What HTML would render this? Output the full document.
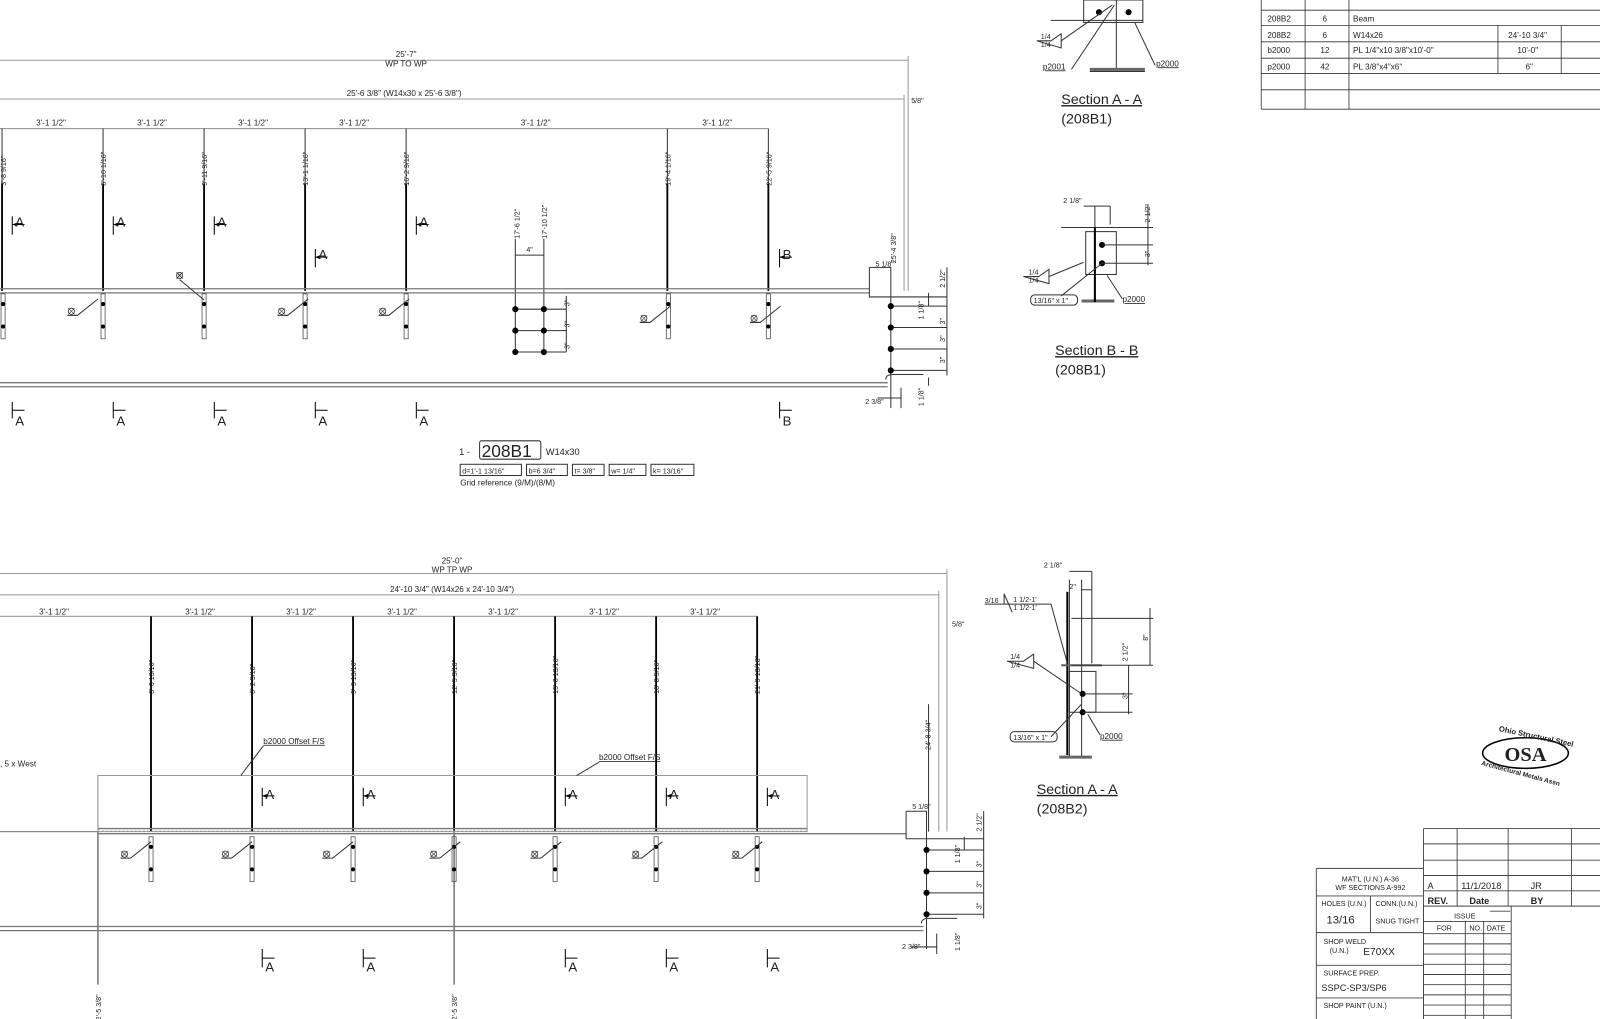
<!DOCTYPE html>
<html><head><meta charset="utf-8"><style>
html,body{margin:0;padding:0;background:#fff;width:1600px;height:1019px;overflow:hidden}
svg{display:block}
text{font-family:"Liberation Sans",sans-serif;fill:#222}
.t{font-size:8px}
.s{font-size:7px}
.l{stroke:#333;stroke-width:1;fill:none}
.g{stroke:#999;stroke-width:1;fill:none}
.b{stroke:#000;stroke-width:1.8;fill:none}
.m{stroke:#000;stroke-width:1;fill:none}
</style></head><body>
<svg width="1600" height="1019" viewBox="0 0 1600 1019" xmlns="http://www.w3.org/2000/svg">
<defs>
<g id="secA"><path d="M0 -8V10M0 0H12" class="m"/><path d="M0 0L5 -2V2Z" fill="#000"/></g>
<g id="holes"><rect x="-2" y="0" width="4" height="44" fill="none" stroke="#555" stroke-width="0.8"/><circle cx="0" cy="10" r="2" fill="#000"/><circle cx="0" cy="32" r="2" fill="#000"/></g>
<g id="weld"><circle cx="0" cy="0" r="3" fill="none" stroke="#333" stroke-width="0.8"/><path d="M-3 -3L3 3M3 -3L-3 3" stroke="#333" stroke-width="0.6"/><path d="M-4 4H6L26 -12" class="l"/></g>
<g id="dot"><circle r="3" fill="#000"/></g>
</defs>
<g transform="scale(1.0204)">
<!-- ========== TOP BEAM ========== -->
<path d="M0 59H890M890 55V285" class="g"/>
<text x="398" y="56" class="t" text-anchor="middle">25'-7"</text>
<text x="398" y="65" class="t" text-anchor="middle">WP TO WP</text>
<path d="M0 97H886M886 93V285" class="g"/>
<text x="396" y="94" class="t" text-anchor="middle">25'-6 3/8" (W14x30 x 25'-6 3/8")</text>
<text x="893" y="101" class="s">5/8"</text>
<path d="M0 126H753" class="g"/>
<text x="50" y="123" class="t" text-anchor="middle">3'-1 1/2"</text>
<text x="149" y="123" class="t" text-anchor="middle">3'-1 1/2"</text>
<text x="248" y="123" class="t" text-anchor="middle">3'-1 1/2"</text>
<text x="347" y="123" class="t" text-anchor="middle">3'-1 1/2"</text>
<text x="525" y="123" class="t" text-anchor="middle">3'-1 1/2"</text>
<text x="703" y="123" class="t" text-anchor="middle">3'-1 1/2"</text>
<path d="M2 126V180M101 126V180M200 126V180M299 126V180M398 126V180M654 126V180M753 126V180" class="l"/>
<path d="M2 180V285M101 180V285M200 180V285M299 180V285M398 180V285M654 180V285M753 180V285" class="b"/>
<g class="s">
<text transform="translate(6,182) rotate(-90)">3'-8 9/16"</text>
<text transform="translate(104,182) rotate(-90)">6'-10 1/16"</text>
<text transform="translate(203,182) rotate(-90)">9'-11 9/16"</text>
<text transform="translate(302,182) rotate(-90)">13'-1 1/16"</text>
<text transform="translate(401,182) rotate(-90)">16'-2 9/16"</text>
<text transform="translate(657,182) rotate(-90)">19'-4 1/16"</text>
<text transform="translate(756,182) rotate(-90)">22'-5 9/16"</text>
<text transform="translate(509,234) rotate(-90)">17'-6 1/2"</text>
<text transform="translate(536,234) rotate(-90)">17'-10 1/2"</text>
<text transform="translate(878,258) rotate(-90)">25'-4 3/8"</text>
</g>
<path d="M505 234V345M533 234V345M505 250H533" class="l"/>
<text x="519" y="247" class="s" text-anchor="middle">4"</text>
<!-- section marks top -->
<use href="#secA" x="12" y="220"/><text x="15" y="222" font-size="13">A</text>
<use href="#secA" x="111" y="220"/><text x="114" y="222" font-size="13">A</text>
<use href="#secA" x="210" y="220"/><text x="213" y="222" font-size="13">A</text>
<use href="#secA" x="309" y="252"/><text x="312" y="254" font-size="13">A</text>
<use href="#secA" x="408" y="220"/><text x="411" y="222" font-size="13">A</text>
<use href="#secA" x="764" y="252"/><text x="767" y="254" font-size="13">B</text>
<!-- beam -->
<path d="M0 283H852M0 287H852" stroke="#777" stroke-width="1.3"/>
<path d="M0 375H870M0 379H870" stroke="#777" stroke-width="1.3"/>
<use href="#holes" x="3" y="288"/><use href="#holes" x="101" y="288"/><use href="#holes" x="200" y="288"/>
<use href="#holes" x="299" y="288"/><use href="#holes" x="398" y="288"/><use href="#holes" x="655" y="288"/><use href="#holes" x="753" y="288"/>
<use href="#weld" x="70" y="305"/><use href="#weld" x="276" y="305"/><use href="#weld" x="375" y="305"/>
<use href="#weld" x="631" y="312"/><use href="#weld" x="739" y="312"/>
<circle cx="176" cy="270" r="3" fill="none" stroke="#333" stroke-width="0.8"/><path d="M173 273L179 267M173 267L179 273M176 274L200 294" class="l"/>
<!-- hole grid -->
<path d="M505 303H555M505 324H555M505 345H555M555 290V345" class="l"/>
<use href="#dot" x="505" y="303"/><use href="#dot" x="533" y="303"/><use href="#dot" x="505" y="324"/><use href="#dot" x="533" y="324"/><use href="#dot" x="505" y="345"/><use href="#dot" x="533" y="345"/>
<text transform="translate(558,300) rotate(-90)" class="s">3"</text>
<text transform="translate(558,321) rotate(-90)" class="s">3"</text>
<text transform="translate(558,342) rotate(-90)" class="s">3"</text>
<!-- right end -->
<path d="M852 262H873V400M852 262V291H928M873 380V400M860 390H883M883 380V400M868 372Q868 367 875 367H905" class="l"/>
<path d="M873 300H928M873 321H928M873 342H928M873 363H928M928 262V368M910 287V300M910 370V378" class="l"/>
<use href="#dot" x="873" y="300"/><use href="#dot" x="873" y="321"/><use href="#dot" x="873" y="342"/><use href="#dot" x="873" y="363"/>
<text x="858" y="261" class="s">5 1/8"</text>
<text x="848" y="396" class="s">2 3/8"</text>
<g class="s">
<text transform="translate(926,282) rotate(-90)">2 1/2"</text>
<text transform="translate(905,313) rotate(-90)">1 1/8"</text>
<text transform="translate(926,335) rotate(-90)">3"</text>
<text transform="translate(926,356) rotate(-90)">3"</text>
<text transform="translate(926,318) rotate(-90)">3"</text>
<text transform="translate(905,398) rotate(-90)">1 1/8"</text>
</g>
<!-- bottom marks -->
<g>
<path d="M12 394V410M12 402H24M111 394V410M111 402H123M210 394V410M210 402H222M309 394V410M309 402H321M408 394V410M408 402H420M764 394V410M764 402H776" class="m"/>
<text x="15" y="417" font-size="13">A</text><text x="114" y="417" font-size="13">A</text><text x="213" y="417" font-size="13">A</text>
<text x="312" y="417" font-size="13">A</text><text x="411" y="417" font-size="13">A</text><text x="767" y="417" font-size="13">B</text>
</g>
<text x="450" y="446" font-size="9">1 -</text>
<rect x="470" y="432" width="60" height="18" rx="2" fill="none" stroke="#333"/>
<text x="472" y="448" font-size="17">208B1</text>
<text x="535" y="446" font-size="9">W14x30</text>
<g class="s" fill="none">
<rect x="451" y="455" width="60" height="11" stroke="#333" fill="none"/><text x="453" y="464">d=1'-1 13/16"</text>
<rect x="516" y="455" width="40" height="11" stroke="#333" fill="none"/><text x="518" y="464">b=6 3/4"</text>
<rect x="561" y="455" width="31" height="11" stroke="#333" fill="none"/><text x="563" y="464">t= 3/8"</text>
<rect x="597" y="455" width="36" height="11" stroke="#333" fill="none"/><text x="599" y="464">w= 1/4"</text>
<rect x="638" y="455" width="42" height="11" stroke="#333" fill="none"/><text x="640" y="464">k= 13/16"</text>
</g>
<text x="451" y="476" class="t">Grid reference (9/M)/(8/M)</text>

<!-- ========== BOTTOM BEAM ========== -->
<path d="M0 562H928M928 558V815" class="g"/>
<text x="443" y="552" class="t" text-anchor="middle">25'-0"</text>
<text x="443" y="561" class="t" text-anchor="middle">WP TP WP</text>
<path d="M0 583H920M920 579V815" class="g"/>
<text x="443" y="580" class="t" text-anchor="middle">24'-10 3/4" (W14x26 x 24'-10 3/4")</text>
<text x="933" y="614" class="s">5/8"</text>
<path d="M0 604H742" class="g"/>
<text x="53" y="602" class="t" text-anchor="middle">3'-1 1/2"</text>
<text x="196" y="602" class="t" text-anchor="middle">3'-1 1/2"</text>
<text x="295" y="602" class="t" text-anchor="middle">3'-1 1/2"</text>
<text x="394" y="602" class="t" text-anchor="middle">3'-1 1/2"</text>
<text x="493" y="602" class="t" text-anchor="middle">3'-1 1/2"</text>
<text x="592" y="602" class="t" text-anchor="middle">3'-1 1/2"</text>
<text x="691" y="602" class="t" text-anchor="middle">3'-1 1/2"</text>
<path d="M148 604V815M247 604V815M346 604V815M445 604V815M544 604V815M643 604V815M742 604V815" class="b"/>
<g class="s" fill="#555">
<text transform="translate(151,680) rotate(-90)">3'-0 13/16"</text>
<text transform="translate(250,680) rotate(-90)">6'-2 5/16"</text>
<text transform="translate(349,680) rotate(-90)">9'-3 13/16"</text>
<text transform="translate(448,680) rotate(-90)">12'-5 5/16"</text>
<text transform="translate(547,680) rotate(-90)">15'-6 13/16"</text>
<text transform="translate(646,680) rotate(-90)">18'-8 5/16"</text>
<text transform="translate(745,680) rotate(-90)">21'-9 13/16"</text>
<text transform="translate(912,735) rotate(-90)">24'-8 3/4"</text>
<text transform="translate(99,1000) rotate(-90)">2'-5 3/8"</text>
<text transform="translate(448,1000) rotate(-90)">2'-5 3/8"</text>
</g>
<path d="M910 690V815M96 760V965M445 815V965" class="l"/>
<text x="0" y="751" class="t">, 5 x West</text>
<rect x="96" y="760" width="695" height="55" class="g"/>
<path d="M96 812H791M96 817H888" stroke="#777" stroke-width="1.3"/>
<path d="M96 814.5H791" stroke="#999" stroke-width="1" stroke-dasharray="2 2"/>
<path d="M0 908H905M0 912H905" stroke="#777" stroke-width="1.3"/>
<path d="M0 815H96" stroke="#888" stroke-width="1.3"/>
<text x="258" y="729" class="t" text-decoration="underline">b2000 Offset F/S</text>
<path d="M258 731L236 760" class="l"/>
<text x="587" y="745" class="t" text-decoration="underline">b2000 Offset F/S</text>
<path d="M587 747L565 760" class="l"/>
<use href="#secA" x="257" y="780"/><text x="260" y="783" font-size="13">A</text>
<use href="#secA" x="356" y="780"/><text x="359" y="783" font-size="13">A</text>
<use href="#secA" x="554" y="780"/><text x="557" y="783" font-size="13">A</text>
<use href="#secA" x="653" y="780"/><text x="656" y="783" font-size="13">A</text>
<use href="#secA" x="752" y="780"/><text x="755" y="783" font-size="13">A</text>
<use href="#holes" x="148" y="820"/><use href="#holes" x="247" y="820"/><use href="#holes" x="346" y="820"/><use href="#holes" x="445" y="820"/>
<use href="#holes" x="544" y="820"/><use href="#holes" x="643" y="820"/><use href="#holes" x="742" y="820"/>
<use href="#weld" x="122" y="837"/><use href="#weld" x="221" y="837"/><use href="#weld" x="320" y="837"/><use href="#weld" x="425" y="837"/>
<use href="#weld" x="524" y="837"/><use href="#weld" x="623" y="837"/><use href="#weld" x="721" y="837"/>
<!-- right end bottom -->
<path d="M888 795H908V930M888 795V822H964M893 928H918M918 915V935M903 905Q903 900 910 900H938" class="l"/>
<path d="M908 833H964M908 854H964M908 875H964M908 896H964M964 795V900M945 820V833" class="l"/>
<use href="#dot" x="908" y="833"/><use href="#dot" x="908" y="854"/><use href="#dot" x="908" y="875"/><use href="#dot" x="908" y="896"/>
<text x="894" y="793" class="s">5 1/8"</text>
<text x="884" y="930" class="s">2 3/8"</text>
<g class="s">
<text transform="translate(962,815) rotate(-90)">2 1/2"</text>
<text transform="translate(941,846) rotate(-90)">1 1/8"</text>
<text transform="translate(962,850) rotate(-90)">3"</text>
<text transform="translate(962,870) rotate(-90)">3"</text>
<text transform="translate(962,891) rotate(-90)">3"</text>
<text transform="translate(941,932) rotate(-90)">1 1/8"</text>
</g>
<path d="M257 930V948M257 939H269M356 930V948M356 939H368M554 930V948M554 939H566M653 930V948M653 939H665M752 930V948M752 939H764" class="m"/>
<text x="260" y="952" font-size="13">A</text><text x="359" y="952" font-size="13">A</text><text x="557" y="952" font-size="13">A</text><text x="656" y="952" font-size="13">A</text><text x="755" y="952" font-size="13">A</text>

<!-- ========== Section A-A 208B1 (top) ========== -->
<rect x="1062" y="0" width="58" height="22" class="l"/>
<path d="M1094 0V68M1030 20H1120M1068 70H1122" class="l"/>
<path d="M1068 68H1122" stroke="#666" stroke-width="3"/>
<use href="#dot" x="1077" y="12"/><use href="#dot" x="1106" y="12"/>
<path d="M1016 40H1030L1040 33V47Z" class="l"/>
<text x="1020" y="38" class="s">1/4</text><text x="1020" y="46" class="s">1/4</text>
<path d="M1040 40L1090 5M1050 68L1092 5M1112 22L1132 64" class="l"/>
<text x="1022" y="68" class="t" text-decoration="underline">p2001</text>
<text x="1133" y="65" class="t" text-decoration="underline">p2000</text>
<text x="1040" y="102" font-size="14" text-decoration="underline">Section A - A</text>
<text x="1040" y="121" font-size="14">(208B1)</text>
<!-- Section B-B -->
<path d="M1073 202V296M1062 202H1088M1088 202V220M1040 223H1100M1060 296H1092" class="l"/>
<path d="M1060 295H1092" stroke="#666" stroke-width="3"/>
<rect x="1064" y="227" width="30" height="42" class="l"/>
<path d="M1073 223V296" stroke="#000" stroke-width="2"/>
<use href="#dot" x="1080" y="240"/><use href="#dot" x="1080" y="258"/>
<path d="M1080 223H1130M1080 240H1130M1080 258H1130M1125 200V260" class="l"/>
<text x="1042" y="199" class="s">2 1/8"</text>
<text transform="translate(1127,218) rotate(-90)" class="s">2 1/2"</text>
<text transform="translate(1127,252) rotate(-90)" class="s">3"</text>
<path d="M1003 271H1018L1028 264V278ZM1028 271L1062 257M1040 290L1080 258M1085 270L1100 293" class="l"/>
<text x="1008" y="269" class="s">1/4</text><text x="1008" y="277" class="s">1/4</text>
<rect x="1010" y="289" width="46" height="10" rx="4" class="l"/><text x="1013" y="297" class="s">13/16" x 1"</text>
<text x="1100" y="296" class="t" text-decoration="underline">p2000</text>
<text x="1034" y="348" font-size="14" text-decoration="underline">Section B - B</text>
<text x="1034" y="367" font-size="14">(208B1)</text>
<!-- Section A-A 208B2 -->
<path d="M1048 560H1070M1048 568V742M1060 568V742M1060 578H1070M1070 560V650" class="l"/>
<path d="M1046 580V740" stroke="#000" stroke-width="2"/>
<path d="M1038 742H1070" stroke="#666" stroke-width="3"/>
<path d="M1040 652H1080" stroke="#666" stroke-width="2"/>
<rect x="1048" y="658" width="26" height="40" class="l"/>
<use href="#dot" x="1061" y="680"/><use href="#dot" x="1061" y="698"/>
<path d="M1050 606H1130M1050 652H1130M1061 680H1110M1061 698H1110M1127 596V652M1106 652V700" class="l"/>
<text x="1023" y="556" class="s">2 1/8"</text><text x="1048" y="577" class="s">2"</text>
<text transform="translate(1125,628) rotate(-90)" class="s">8"</text>
<text transform="translate(1105,648) rotate(-90)" class="s">2 1/2"</text>
<text transform="translate(1105,685) rotate(-90)" class="s">3"</text>
<path d="M965 592H984V582L992 600M984 592H1030L1046 650" class="l"/>
<text x="965" y="591" class="s">3/16</text><text x="993" y="590" class="s">1 1/2-1'</text><text x="993" y="598" class="s">1 1/2-1'</text>
<path d="M987 648H1003L1013 641V655ZM1013 648L1060 680M1030 722L1060 690M1066 700L1078 720" class="l"/>
<text x="990" y="646" class="s">1/4</text><text x="990" y="654" class="s">1/4</text>
<rect x="990" y="717" width="46" height="10" rx="4" class="l"/><text x="993" y="725" class="s">13/16" x 1"</text>
<text x="1078" y="724" class="t" text-decoration="underline">p2000</text>
<text x="1016" y="778" font-size="14" text-decoration="underline">Section A - A</text>
<text x="1016" y="797" font-size="14">(208B2)</text>

<!-- ========== Table ========== -->
<g stroke="#333" stroke-width="0.8" fill="none">
<path d="M1236 0V107M1279 0V107M1322 0V107M1468 25V72M1530 25V72M1236 10H1600M1236 25H1600M1236 41H1600M1236 57H1600M1236 72H1600M1236 88H1600M1236 107H1600"/>
</g>
<g class="t">
<text x="1242" y="21">208B2</text><text x="1296" y="21">6</text><text x="1326" y="21">Beam</text><text x="1576" y="21">Sho</text>
<text x="1242" y="37">208B2</text><text x="1296" y="37">6</text><text x="1326" y="37">W14x26</text><text x="1478" y="37">24'-10 3/4"</text>
<text x="1242" y="52">b2000</text><text x="1294" y="52">12</text><text x="1326" y="52">PL 1/4"x10 3/8"x10'-0"</text><text x="1487" y="52">10'-0"</text>
<text x="1242" y="68">p2000</text><text x="1294" y="68">42</text><text x="1326" y="68">PL 3/8"x4"x6"</text><text x="1495" y="68">6"</text>
</g>
<!-- Logo -->
<ellipse cx="1495" cy="738" rx="42" ry="15" fill="none" stroke="#000" stroke-width="1.5"/>
<text x="1495" y="746" font-family="Liberation Serif,serif" font-size="20" font-weight="bold" text-anchor="middle" style="font-family:'Liberation Serif',serif">OSA</text>
<text x="1468" y="722" font-size="7.5" font-weight="bold" transform="rotate(12 1495 722)">Ohio Structural Steel</text>
<text x="1450" y="760" font-size="6.5" font-weight="bold" transform="rotate(15 1490 760)">Architectural Metals Assn</text>
<!-- Title block -->
<g stroke="#444" stroke-width="0.9" fill="none">
<path d="M1395 812H1600M1395 812V1000M1428 812V888M1478 812V888M1540 812V888"/>
<path d="M1395 827H1600M1395 843H1600M1395 858H1600M1395 873H1600M1395 888H1600"/>
<path d="M1290 851H1395M1290 851V1000M1290 878H1395M1343 878V914M1290 914H1395M1290 946H1395M1290 978H1395"/>
<path d="M1395 888V1000M1460 893H1480M1436 903V1000M1454 903V1000M1481 888V1000M1395 903H1481"/>
<path d="M1395 915H1481M1395 925H1481M1395 935H1481M1395 945H1481M1395 955H1481M1395 965H1481M1395 975H1481M1395 985H1481M1395 995H1481"/>
</g>
<g class="s">
<text x="1343" y="864" text-anchor="middle">MAT'L (U.N.) A-36</text>
<text x="1343" y="872" text-anchor="middle">WF SECTIONS A-992</text>
<text x="1295" y="888">HOLES (U.N.)</text><text x="1348" y="888">CONN.(U.N.)</text>
<text x="1300" y="905" font-size="11">13/16</text><text x="1348" y="905">SNUG TIGHT</text>
<text x="1297" y="925">SHOP WELD</text><text x="1303" y="934">(U.N.)</text><text x="1336" y="936" font-size="10">E70XX</text>
<text x="1297" y="956">SURFACE PREP.</text><text x="1295" y="971" font-size="9">SSPC-SP3/SP6</text>
<text x="1297" y="988">SHOP PAINT (U.N.)</text>
<text x="1425" y="900">ISSUE</text><text x="1408" y="912">FOR</text><text x="1440" y="912">NO.</text><text x="1457" y="912">DATE</text>
</g>
<text x="1399" y="871" font-size="9">A</text><text x="1432" y="871" font-size="9">11/1/2018</text><text x="1500" y="871" font-size="9">JR</text>
<text x="1399" y="886" font-size="9" font-weight="bold">REV.</text><text x="1440" y="886" font-size="9" font-weight="bold">Date</text><text x="1500" y="886" font-size="9" font-weight="bold">BY</text>
</g>
</svg>
</body></html>
